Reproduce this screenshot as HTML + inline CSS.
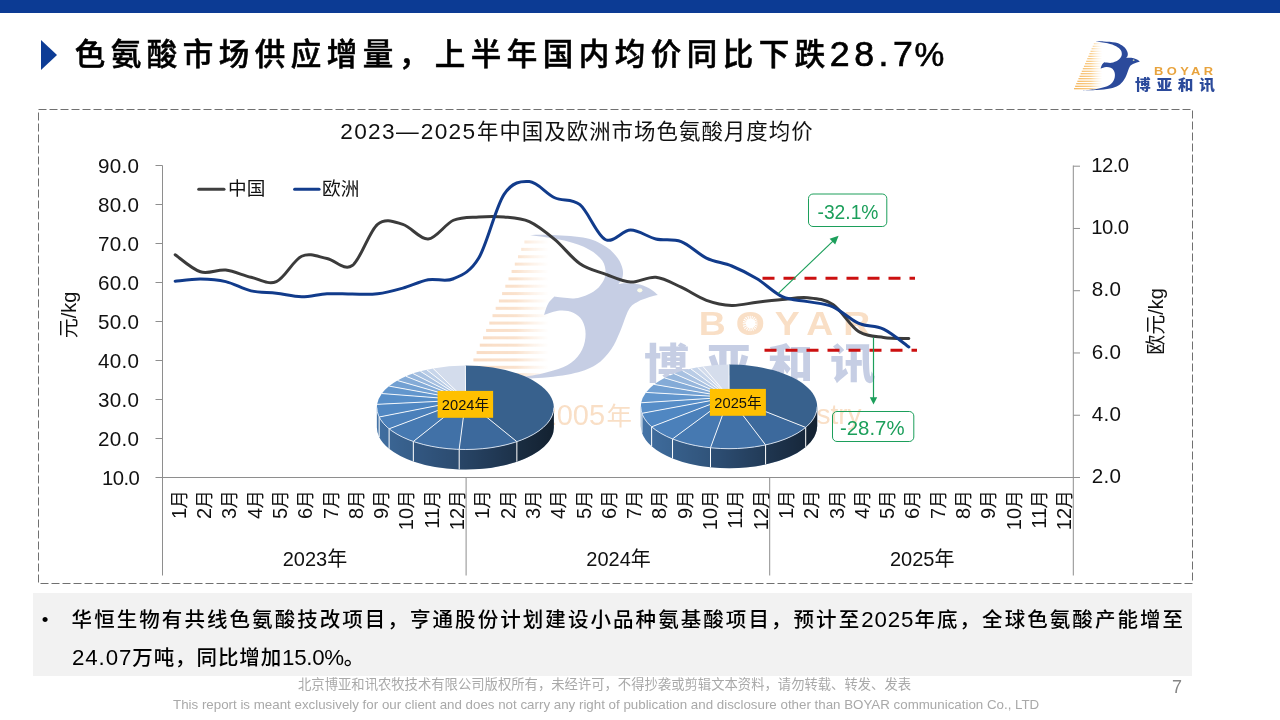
<!DOCTYPE html>
<html lang="zh-CN"><head><meta charset="utf-8"><title>色氨酸市场供应增量</title>
<style>
html,body{margin:0;padding:0}
body{width:1280px;height:720px;position:relative;overflow:hidden;background:#fff;font-family:"Liberation Sans","Noto Sans CJK SC",sans-serif;color:#000}
.bar{position:absolute;left:0;top:0;width:1280px;height:12.5px;background:#0c3b94}
.tri{position:absolute;left:41px;top:39.5px;width:0;height:0;border-left:16px solid #0d3c96;border-top:15.7px solid transparent;border-bottom:15.7px solid transparent}
.title{position:absolute;left:74.8px;top:30.3px;font-size:30.5px;font-weight:500;-webkit-text-stroke:0.55px #000;letter-spacing:5.5px;white-space:nowrap;line-height:48px}
.title .num{position:relative;top:1.2px;font-size:35.7px;font-weight:normal;letter-spacing:4.55px;line-height:1px;margin-left:-1px;-webkit-text-stroke:0.7px #000}
.title .pct{position:relative;top:1.2px;font-size:33.5px;font-weight:normal;letter-spacing:0;line-height:1px;-webkit-text-stroke:0.6px #000;margin-left:-3px}
.note{position:absolute;left:33px;top:593px;width:1159px;height:82.5px;background:#f2f2f2}
.note .bul{position:absolute;left:8.8px;top:7px;font-size:19px;line-height:40px}
.note .l1{position:absolute;left:38.6px;top:7px;font-size:20.5px;line-height:40px;white-space:nowrap;letter-spacing:2.06px;font-weight:500}
.note .d{font-size:22.3px;line-height:1px;letter-spacing:0.9px}
.note .l2{position:absolute;left:39px;top:45.1px;font-size:20.5px;line-height:40px;white-space:nowrap;font-weight:500;letter-spacing:0.9px}
.f1{position:absolute;left:298px;top:675px;font-size:13.33px;line-height:20px;color:#a9a9a9;white-space:nowrap}
.f2{position:absolute;left:173px;top:694.5px;font-size:13.33px;line-height:20px;color:#a9a9a9;white-space:nowrap}
.pn{position:absolute;left:1172px;top:674.7px;font-size:18px;line-height:24px;color:#858585}
</style></head><body>
<div class="bar"></div>
<div class="tri"></div>
<div class="title">色氨酸市场供应增量，上半年国内均价同比下跌<span class="num">28.7</span><span class="pct">%</span></div>
<svg width="1280" height="720" viewBox="0 0 1280 720" style="position:absolute;left:0;top:0" font-family='&quot;Liberation Sans&quot;,&quot;Noto Sans CJK SC&quot;,sans-serif'>
<defs>
<linearGradient id="sg1" x1="0" y1="0" x2="1" y2="0"><stop offset="0" stop-color="#000" stop-opacity="0"/><stop offset="0.45" stop-color="#000" stop-opacity="0.22"/><stop offset="1" stop-color="#000" stop-opacity="0.6"/></linearGradient>
<linearGradient id="sg2" x1="0" y1="0" x2="1" y2="0"><stop offset="0" stop-color="#000" stop-opacity="0"/><stop offset="0.45" stop-color="#000" stop-opacity="0.22"/><stop offset="1" stop-color="#000" stop-opacity="0.6"/></linearGradient>
<linearGradient id="sgr" gradientUnits="userSpaceOnUse" x1="466" y1="0" x2="549" y2="0"><stop offset="0" stop-color="#f2a02c" stop-opacity="1"/><stop offset="0.6" stop-color="#f6b85a" stop-opacity="0.9"/><stop offset="1" stop-color="#fbd9a0" stop-opacity="0"/></linearGradient>
<linearGradient id="sgw" gradientUnits="userSpaceOnUse" x1="466" y1="0" x2="549" y2="0"><stop offset="0" stop-color="#e87a20" stop-opacity="1"/><stop offset="0.6" stop-color="#ea862e" stop-opacity="0.9"/><stop offset="1" stop-color="#f0a058" stop-opacity="0"/></linearGradient>
</defs>
<rect x="38.5" y="109.5" width="1154" height="474" fill="none" stroke="#707070" stroke-width="1" stroke-dasharray="8 3"/>
<g opacity="0.27">
<g><rect x="524.4" y="240.50" width="24.6" height="3" fill="url(#sgw)"/><rect x="521.2" y="247.87" width="27.8" height="3" fill="url(#sgw)"/><rect x="518.0" y="255.24" width="31.0" height="3" fill="url(#sgw)"/><rect x="514.8" y="262.61" width="34.2" height="3" fill="url(#sgw)"/><rect x="511.6" y="269.98" width="37.4" height="3" fill="url(#sgw)"/><rect x="508.5" y="277.35" width="40.5" height="3" fill="url(#sgw)"/><rect x="505.3" y="284.72" width="43.7" height="3" fill="url(#sgw)"/><rect x="502.1" y="292.09" width="46.9" height="3" fill="url(#sgw)"/><rect x="498.9" y="299.46" width="50.1" height="3" fill="url(#sgw)"/><rect x="495.7" y="306.83" width="53.3" height="3" fill="url(#sgw)"/><rect x="492.5" y="314.20" width="56.5" height="3" fill="url(#sgw)"/><rect x="489.3" y="321.57" width="59.7" height="3" fill="url(#sgw)"/><rect x="486.1" y="328.94" width="62.9" height="3" fill="url(#sgw)"/><rect x="483.0" y="336.31" width="66.0" height="3" fill="url(#sgw)"/><rect x="479.8" y="343.68" width="69.2" height="3" fill="url(#sgw)"/><rect x="476.6" y="351.05" width="72.4" height="3" fill="url(#sgw)"/><rect x="473.4" y="358.42" width="75.6" height="3" fill="url(#sgw)"/><rect x="470.2" y="365.79" width="78.8" height="3" fill="url(#sgw)"/><rect x="467.0" y="373.16" width="82.0" height="3" fill="url(#sgw)"/><path d="M530.00 235.00 C533.88 235.00 543.85 234.45 553.30 235.00 C562.75 235.55 577.80 236.27 586.70 238.30 C595.60 240.33 601.52 243.87 606.70 247.20 C611.88 250.53 615.13 254.60 617.80 258.30 C620.47 262.00 621.97 266.07 622.70 269.40 C623.43 272.73 622.90 275.87 622.20 278.30 C621.50 280.73 619.12 283.05 618.50 284.00 C619.87 283.87 623.12 283.10 626.70 283.20 C630.28 283.30 635.93 283.57 640.00 284.60 C644.07 285.63 648.13 287.67 651.10 289.40 C654.07 291.13 656.68 294.07 657.80 295.00 C656.32 295.37 652.23 296.08 648.90 297.20 C645.57 298.32 641.13 299.67 637.80 301.70 C634.47 303.73 631.87 304.40 628.90 309.40 C625.93 314.40 622.97 325.03 620.00 331.70 C617.03 338.37 615.17 343.85 611.10 349.40 C607.03 354.95 602.27 360.92 595.60 365.00 C588.93 369.08 581.48 371.68 571.10 373.90 C560.72 376.12 546.48 377.37 533.30 378.30 C520.12 379.23 498.88 379.30 492.00 379.50 C498.15 378.93 518.68 377.58 528.90 376.10 C539.12 374.62 546.27 372.82 553.30 370.60 C560.33 368.38 566.28 366.33 571.10 362.80 C575.92 359.27 579.78 354.22 582.20 349.40 C584.62 344.58 585.60 338.70 585.60 333.90 C585.60 329.10 584.25 324.12 582.20 320.60 C580.15 317.08 577.00 314.47 573.30 312.80 C569.60 311.13 564.88 310.23 560.00 310.60 C555.12 310.97 546.67 314.27 544.00 315.00 C544.67 313.17 546.27 307.07 548.00 304.00 C549.73 300.93 553.33 297.83 554.40 296.60 C557.93 296.88 569.12 299.12 575.60 298.30 C582.08 297.48 588.87 294.28 593.30 291.70 C597.73 289.12 600.15 285.95 602.20 282.80 C604.25 279.65 605.60 276.50 605.60 272.80 C605.60 269.10 604.98 264.50 602.20 260.60 C599.42 256.70 595.20 252.73 588.90 249.40 C582.60 246.07 574.22 243.00 564.40 240.60 C554.58 238.20 535.73 235.93 530.00 235.00 Z" fill="#2b4a9b"/><ellipse cx="639.8" cy="290.3" rx="2.6" ry="2.1" fill="#eef2b0"/><g transform="translate(698.7,0) scale(1.15,1)"><text x="0" y="335" font-size="32.5" font-weight="bold" fill="#e8862a" letter-spacing="8.7">BOYAR</text></g><circle cx="750.6" cy="323.4" r="6.6" fill="none" stroke="#e8862a" stroke-width="3.6" stroke-dasharray="1.0 1.07"/><g transform="translate(644,0) scale(1.08,1)"><text x="0" y="379.5" font-size="42" font-weight="900" fill="#2b4a9b" letter-spacing="15.4">博亚和讯</text></g></g>
<text x="540.5" y="424.8" font-size="29" fill="#e8862a">2005<tspan font-size="25.5" dx="1.5">年</tspan></text>
<text x="762" y="424.4" font-size="28" fill="#e8862a">Industry</text>
</g>
<g stroke="#8e8e8e" stroke-width="1" fill="none">
<line x1="162.5" y1="165.5" x2="162.5" y2="575.5"/>
<line x1="1073.3" y1="165.5" x2="1073.3" y2="575.5"/>
<line x1="155.5" y1="477.5" x2="1080" y2="477.5"/>
<line x1="155.5" y1="165.50" x2="162.5" y2="165.50"/>
<line x1="155.5" y1="204.50" x2="162.5" y2="204.50"/>
<line x1="155.5" y1="243.50" x2="162.5" y2="243.50"/>
<line x1="155.5" y1="282.50" x2="162.5" y2="282.50"/>
<line x1="155.5" y1="321.50" x2="162.5" y2="321.50"/>
<line x1="155.5" y1="360.50" x2="162.5" y2="360.50"/>
<line x1="155.5" y1="399.50" x2="162.5" y2="399.50"/>
<line x1="155.5" y1="438.50" x2="162.5" y2="438.50"/>
<line x1="1073.3" y1="166.20" x2="1080" y2="166.20"/>
<line x1="1073.3" y1="228.46" x2="1080" y2="228.46"/>
<line x1="1073.3" y1="290.72" x2="1080" y2="290.72"/>
<line x1="1073.3" y1="352.98" x2="1080" y2="352.98"/>
<line x1="1073.3" y1="415.24" x2="1080" y2="415.24"/>
<line x1="466.10" y1="477.5" x2="466.10" y2="575.5"/>
<line x1="769.70" y1="477.5" x2="769.70" y2="575.5"/>
</g>
<g font-size="20" fill="#111">
<text x="139.3" y="172.5" text-anchor="end" font-size="20.6" letter-spacing="0.3">90.0</text>
<text x="139.3" y="211.5" text-anchor="end" font-size="20.6" letter-spacing="0.3">80.0</text>
<text x="139.3" y="250.5" text-anchor="end" font-size="20.6" letter-spacing="0.3">70.0</text>
<text x="139.3" y="289.5" text-anchor="end" font-size="20.6" letter-spacing="0.3">60.0</text>
<text x="139.3" y="328.5" text-anchor="end" font-size="20.6" letter-spacing="0.3">50.0</text>
<text x="139.3" y="367.5" text-anchor="end" font-size="20.6" letter-spacing="0.3">40.0</text>
<text x="139.3" y="406.5" text-anchor="end" font-size="20.6" letter-spacing="0.3">30.0</text>
<text x="139.3" y="445.5" text-anchor="end" font-size="20.6" letter-spacing="0.3">20.0</text>
<text x="139.3" y="484.5" text-anchor="end" font-size="20.3" letter-spacing="-0.55">10.0</text>
<text x="1091.3" y="171.8" font-size="20.3" letter-spacing="-0.55">12.0</text>
<text x="1091.3" y="234.1" font-size="20.3" letter-spacing="-0.55">10.0</text>
<text x="1091.8" y="296.3" font-size="20.6" letter-spacing="0.3">8.0</text>
<text x="1091.8" y="358.6" font-size="20.6" letter-spacing="0.3">6.0</text>
<text x="1091.8" y="420.8" font-size="20.6" letter-spacing="0.3">4.0</text>
<text x="1091.8" y="483.1" font-size="20.6" letter-spacing="0.3">2.0</text>
<text transform="translate(185.75,490.2) rotate(-90)" text-anchor="end">1<tspan font-size="18.4" dx="-0.6">月</tspan></text>
<text transform="translate(211.05,490.2) rotate(-90)" text-anchor="end">2<tspan font-size="18.4" dx="-0.6">月</tspan></text>
<text transform="translate(236.35,490.2) rotate(-90)" text-anchor="end">3<tspan font-size="18.4" dx="-0.6">月</tspan></text>
<text transform="translate(261.65,490.2) rotate(-90)" text-anchor="end">4<tspan font-size="18.4" dx="-0.6">月</tspan></text>
<text transform="translate(286.95,490.2) rotate(-90)" text-anchor="end">5<tspan font-size="18.4" dx="-0.6">月</tspan></text>
<text transform="translate(312.25,490.2) rotate(-90)" text-anchor="end">6<tspan font-size="18.4" dx="-0.6">月</tspan></text>
<text transform="translate(337.55,490.2) rotate(-90)" text-anchor="end">7<tspan font-size="18.4" dx="-0.6">月</tspan></text>
<text transform="translate(362.85,490.2) rotate(-90)" text-anchor="end">8<tspan font-size="18.4" dx="-0.6">月</tspan></text>
<text transform="translate(388.15,490.2) rotate(-90)" text-anchor="end">9<tspan font-size="18.4" dx="-0.6">月</tspan></text>
<text transform="translate(413.45,490.2) rotate(-90)" text-anchor="end">10<tspan font-size="18.4" dx="-0.6">月</tspan></text>
<text transform="translate(438.75,490.2) rotate(-90)" text-anchor="end">11<tspan font-size="18.4" dx="-0.6">月</tspan></text>
<text transform="translate(464.05,490.2) rotate(-90)" text-anchor="end">12<tspan font-size="18.4" dx="-0.6">月</tspan></text>
<text transform="translate(489.35,490.2) rotate(-90)" text-anchor="end">1<tspan font-size="18.4" dx="-0.6">月</tspan></text>
<text transform="translate(514.65,490.2) rotate(-90)" text-anchor="end">2<tspan font-size="18.4" dx="-0.6">月</tspan></text>
<text transform="translate(539.95,490.2) rotate(-90)" text-anchor="end">3<tspan font-size="18.4" dx="-0.6">月</tspan></text>
<text transform="translate(565.25,490.2) rotate(-90)" text-anchor="end">4<tspan font-size="18.4" dx="-0.6">月</tspan></text>
<text transform="translate(590.55,490.2) rotate(-90)" text-anchor="end">5<tspan font-size="18.4" dx="-0.6">月</tspan></text>
<text transform="translate(615.85,490.2) rotate(-90)" text-anchor="end">6<tspan font-size="18.4" dx="-0.6">月</tspan></text>
<text transform="translate(641.15,490.2) rotate(-90)" text-anchor="end">7<tspan font-size="18.4" dx="-0.6">月</tspan></text>
<text transform="translate(666.45,490.2) rotate(-90)" text-anchor="end">8<tspan font-size="18.4" dx="-0.6">月</tspan></text>
<text transform="translate(691.75,490.2) rotate(-90)" text-anchor="end">9<tspan font-size="18.4" dx="-0.6">月</tspan></text>
<text transform="translate(717.05,490.2) rotate(-90)" text-anchor="end">10<tspan font-size="18.4" dx="-0.6">月</tspan></text>
<text transform="translate(742.35,490.2) rotate(-90)" text-anchor="end">11<tspan font-size="18.4" dx="-0.6">月</tspan></text>
<text transform="translate(767.65,490.2) rotate(-90)" text-anchor="end">12<tspan font-size="18.4" dx="-0.6">月</tspan></text>
<text transform="translate(792.95,490.2) rotate(-90)" text-anchor="end">1<tspan font-size="18.4" dx="-0.6">月</tspan></text>
<text transform="translate(818.25,490.2) rotate(-90)" text-anchor="end">2<tspan font-size="18.4" dx="-0.6">月</tspan></text>
<text transform="translate(843.55,490.2) rotate(-90)" text-anchor="end">3<tspan font-size="18.4" dx="-0.6">月</tspan></text>
<text transform="translate(868.85,490.2) rotate(-90)" text-anchor="end">4<tspan font-size="18.4" dx="-0.6">月</tspan></text>
<text transform="translate(894.15,490.2) rotate(-90)" text-anchor="end">5<tspan font-size="18.4" dx="-0.6">月</tspan></text>
<text transform="translate(919.45,490.2) rotate(-90)" text-anchor="end">6<tspan font-size="18.4" dx="-0.6">月</tspan></text>
<text transform="translate(944.75,490.2) rotate(-90)" text-anchor="end">7<tspan font-size="18.4" dx="-0.6">月</tspan></text>
<text transform="translate(970.05,490.2) rotate(-90)" text-anchor="end">8<tspan font-size="18.4" dx="-0.6">月</tspan></text>
<text transform="translate(995.35,490.2) rotate(-90)" text-anchor="end">9<tspan font-size="18.4" dx="-0.6">月</tspan></text>
<text transform="translate(1020.65,490.2) rotate(-90)" text-anchor="end">10<tspan font-size="18.4" dx="-0.6">月</tspan></text>
<text transform="translate(1045.95,490.2) rotate(-90)" text-anchor="end">11<tspan font-size="18.4" dx="-0.6">月</tspan></text>
<text transform="translate(1071.25,490.2) rotate(-90)" text-anchor="end">12<tspan font-size="18.4" dx="-0.6">月</tspan></text>
<text x="315.0" y="565.5" text-anchor="middle">2023年</text>
<text x="618.6" y="565.5" text-anchor="middle">2024年</text>
<text x="922.2" y="565.5" text-anchor="middle">2025年</text>
<text transform="translate(76,315) rotate(-90)" text-anchor="middle">元/kg</text>
<text transform="translate(1163.3,321.4) rotate(-90)" text-anchor="middle">欧元/kg</text>
</g>
<text x="340.3" y="139" font-size="22.67" fill="#111"><tspan letter-spacing="1.3">2023</tspan><tspan letter-spacing="2.2">—</tspan><tspan letter-spacing="1.3">2025</tspan><tspan font-size="21.4" letter-spacing="1.05" dx="0.6">年中国及欧洲市场色氨酸月度均价</tspan></text>
<line x1="198.7" y1="189.2" x2="224" y2="189.2" stroke="#404040" stroke-width="3" stroke-linecap="round"/>
<text x="228" y="194.6" font-size="18.67" fill="#111">中国</text>
<line x1="294.6" y1="189.2" x2="319.1" y2="189.2" stroke="#133d8d" stroke-width="3" stroke-linecap="round"/>
<text x="322" y="194.6" font-size="18.67" fill="#111">欧洲</text>
<path d="M175.15 254.75 C179.37 257.59 192.02 269.24 200.45 271.80 C208.88 274.36 217.32 269.19 225.75 270.10 C234.18 271.01 242.62 275.33 251.05 277.25 C259.48 279.17 267.92 285.10 276.35 281.60 C284.78 278.10 293.22 260.10 301.65 256.25 C310.08 252.40 318.52 256.94 326.95 258.50 C335.38 260.06 343.82 271.30 352.25 265.60 C360.68 259.90 369.12 231.17 377.55 224.30 C385.98 217.43 394.42 221.95 402.85 224.40 C411.28 226.85 419.72 239.69 428.15 239.00 C436.58 238.31 445.02 223.93 453.45 220.25 C461.88 216.57 470.32 217.46 478.75 216.90 C487.18 216.34 495.62 216.12 504.05 216.90 C512.48 217.68 520.92 217.85 529.35 221.60 C537.78 225.35 546.22 232.38 554.65 239.40 C563.08 246.43 571.52 257.97 579.95 263.75 C588.38 269.53 596.82 271.04 605.25 274.10 C613.68 277.16 622.12 281.58 630.55 282.10 C638.98 282.62 647.42 276.40 655.85 277.25 C664.28 278.10 672.72 283.36 681.15 287.20 C689.58 291.04 698.02 297.27 706.45 300.30 C714.88 303.33 723.32 305.08 731.75 305.40 C740.18 305.72 748.62 303.18 757.05 302.20 C765.48 301.22 773.92 300.25 782.35 299.50 C790.78 298.75 799.22 296.87 807.65 297.70 C816.08 298.53 824.52 298.92 832.95 304.50 C841.38 310.08 849.82 325.70 858.25 331.20 C866.68 336.70 875.12 336.28 883.55 337.50 C891.98 338.72 904.63 338.33 908.85 338.50" fill="none" stroke="#3b3b3b" stroke-width="3" stroke-linecap="round" stroke-linejoin="round"/>
<path d="M175.15 281.20 C179.37 280.85 192.02 279.03 200.45 279.10 C208.88 279.17 217.32 279.63 225.75 281.60 C234.18 283.57 242.62 288.97 251.05 290.90 C259.48 292.83 267.92 292.22 276.35 293.20 C284.78 294.18 293.22 296.66 301.65 296.75 C310.08 296.84 318.52 294.19 326.95 293.75 C335.38 293.31 343.82 294.10 352.25 294.10 C360.68 294.10 369.12 294.75 377.55 293.75 C385.98 292.75 394.42 290.44 402.85 288.10 C411.28 285.76 419.72 281.26 428.15 279.70 C436.58 278.14 445.02 282.35 453.45 278.75 C461.88 275.15 470.32 272.16 478.75 258.10 C487.18 244.04 495.62 207.15 504.05 194.40 C512.48 181.65 520.92 181.04 529.35 181.60 C537.78 182.16 546.22 193.90 554.65 197.75 C563.08 201.60 571.52 197.74 579.95 204.70 C588.38 211.66 596.82 235.28 605.25 239.50 C613.68 243.72 622.12 230.08 630.55 230.00 C638.98 229.92 647.42 237.07 655.85 239.00 C664.28 240.93 672.72 238.42 681.15 241.60 C689.58 244.78 698.02 254.03 706.45 258.10 C714.88 262.17 723.32 262.56 731.75 266.00 C740.18 269.44 748.62 273.63 757.05 278.75 C765.48 283.87 773.92 292.89 782.35 296.70 C790.78 300.51 799.22 299.92 807.65 301.60 C816.08 303.28 824.52 303.20 832.95 306.80 C841.38 310.40 849.82 319.48 858.25 323.20 C866.68 326.92 875.12 325.13 883.55 329.10 C891.98 333.07 904.63 344.02 908.85 347.00" fill="none" stroke="#113b8b" stroke-width="3" stroke-linecap="round" stroke-linejoin="round"/>
<line x1="762.5" y1="278.3" x2="915" y2="278.3" stroke="#cc1010" stroke-width="3" stroke-dasharray="12 9"/>
<line x1="764.5" y1="350.3" x2="917" y2="350.3" stroke="#cc1010" stroke-width="3" stroke-dasharray="12 9"/>
<line x1="778.4" y1="293.4" x2="834" y2="240.1" stroke="#1c9f5b" stroke-width="1.2"/>
<polygon points="838.6,235.7 835.2,244.6 829.6,238.8" fill="#1c9f5b"/>
<line x1="873.5" y1="337.5" x2="873.5" y2="398" stroke="#1c9f5b" stroke-width="1.2"/>
<polygon points="873.5,404.5 869.8,397.3 877.2,397.3" fill="#1c9f5b"/>
<rect x="808.5" y="194" width="78.3" height="32.5" rx="4.5" fill="none" stroke="#1c9f5b" stroke-width="1"/>
<text x="817.5" y="219.2" font-size="20.5" fill="#1c9f5b" textLength="61" lengthAdjust="spacingAndGlyphs">-32.1%</text>
<rect x="832.5" y="411.5" width="81.3" height="30" rx="4.5" fill="none" stroke="#1c9f5b" stroke-width="1"/>
<text x="840" y="434.7" font-size="20.5" fill="#1c9f5b" textLength="64.5" lengthAdjust="spacingAndGlyphs">-28.7%</text>
<path d="M553.85 407.50 A88.50 42.00 0 0 1 516.87 441.65 L516.87 461.65 A88.50 42.00 0 0 0 553.85 427.50 Z" fill="#305379"/>
<path d="M516.87 441.65 A88.50 42.00 0 0 1 459.18 449.40 L459.18 469.40 A88.50 42.00 0 0 0 516.87 461.65 Z" fill="#345a86"/>
<path d="M459.18 449.40 A88.50 42.00 0 0 1 413.33 441.48 L413.33 461.48 A88.50 42.00 0 0 0 459.18 469.40 Z" fill="#386190"/>
<path d="M413.33 441.48 A88.50 42.00 0 0 1 389.10 428.82 L389.10 448.82 A88.50 42.00 0 0 0 413.33 461.48 Z" fill="#3c6898"/>
<path d="M389.10 428.82 A88.50 42.00 0 0 1 379.15 417.02 L379.15 437.02 A88.50 42.00 0 0 0 389.10 448.82 Z" fill="#406ea0"/>
<path d="M379.15 417.02 A88.50 42.00 0 0 1 376.85 407.50 L376.85 427.50 A88.50 42.00 0 0 0 379.15 437.02 Z" fill="#4574a7"/>
<path d="M553.85 407.50 A88.50 42.00 0 0 1 376.85 407.50 L376.85 427.50 A88.50 42.00 0 0 0 553.85 427.50 Z" fill="url(#sg1)"/>
<line x1="516.87" y1="441.65" x2="516.87" y2="461.65" stroke="#fff" stroke-width="1"/>
<line x1="459.18" y1="449.40" x2="459.18" y2="469.40" stroke="#fff" stroke-width="1"/>
<line x1="413.33" y1="441.48" x2="413.33" y2="461.48" stroke="#fff" stroke-width="1"/>
<line x1="389.10" y1="428.82" x2="389.10" y2="448.82" stroke="#fff" stroke-width="1"/>
<line x1="379.15" y1="417.02" x2="379.15" y2="437.02" stroke="#fff" stroke-width="1"/>
<path d="M465.60 400.00 L465.35 365.50 A88.50 42.00 0 0 1 516.87 441.65 Z" fill="#38618d"/>
<path d="M465.60 400.00 L516.87 441.65 A88.50 42.00 0 0 1 459.18 449.40 Z" fill="#3c699c"/>
<path d="M465.60 400.00 L459.18 449.40 A88.50 42.00 0 0 1 413.33 441.48 Z" fill="#4171a7"/>
<path d="M465.60 400.00 L413.33 441.48 A88.50 42.00 0 0 1 389.10 428.82 Z" fill="#4679b1"/>
<path d="M465.60 400.00 L389.10 428.82 A88.50 42.00 0 0 1 379.15 417.02 Z" fill="#4b80ba"/>
<path d="M465.60 400.00 L379.15 417.02 A88.50 42.00 0 0 1 377.10 404.35 Z" fill="#5087c2"/>
<path d="M465.60 400.00 L377.10 404.35 A88.50 42.00 0 0 1 381.87 393.55 Z" fill="#578ec8"/>
<path d="M465.60 400.00 L381.87 393.55 A88.50 42.00 0 0 1 389.17 386.12 Z" fill="#6296cd"/>
<path d="M465.60 400.00 L389.17 386.12 A88.50 42.00 0 0 1 397.46 380.56 Z" fill="#72a0d2"/>
<path d="M465.60 400.00 L397.46 380.56 A88.50 42.00 0 0 1 406.02 376.34 Z" fill="#84abd7"/>
<path d="M465.60 400.00 L406.02 376.34 A88.50 42.00 0 0 1 413.08 373.61 Z" fill="#96b6dc"/>
<path d="M465.60 400.00 L413.08 373.61 A88.50 42.00 0 0 1 420.43 371.31 Z" fill="#a8c1e1"/>
<path d="M465.60 400.00 L420.43 371.31 A88.50 42.00 0 0 1 426.69 369.72 Z" fill="#b9cce6"/>
<path d="M465.60 400.00 L426.69 369.72 A88.50 42.00 0 0 1 433.06 368.40 Z" fill="#c7d5ea"/>
<path d="M465.60 400.00 L433.06 368.40 A88.50 42.00 0 0 1 465.35 365.50 Z" fill="#d3dcec"/>
<line x1="465.60" y1="400.00" x2="465.35" y2="365.50" stroke="#fff" stroke-width="0.9"/>
<line x1="465.60" y1="400.00" x2="516.87" y2="441.65" stroke="#fff" stroke-width="0.9"/>
<line x1="465.60" y1="400.00" x2="459.18" y2="449.40" stroke="#fff" stroke-width="0.9"/>
<line x1="465.60" y1="400.00" x2="413.33" y2="441.48" stroke="#fff" stroke-width="0.9"/>
<line x1="465.60" y1="400.00" x2="389.10" y2="428.82" stroke="#fff" stroke-width="0.9"/>
<line x1="465.60" y1="400.00" x2="379.15" y2="417.02" stroke="#fff" stroke-width="0.9"/>
<line x1="465.60" y1="400.00" x2="377.10" y2="404.35" stroke="#fff" stroke-width="0.9"/>
<line x1="465.60" y1="400.00" x2="381.87" y2="393.55" stroke="#fff" stroke-width="0.9"/>
<line x1="465.60" y1="400.00" x2="389.17" y2="386.12" stroke="#fff" stroke-width="0.9"/>
<line x1="465.60" y1="400.00" x2="397.46" y2="380.56" stroke="#fff" stroke-width="0.9"/>
<line x1="465.60" y1="400.00" x2="406.02" y2="376.34" stroke="#fff" stroke-width="0.9"/>
<line x1="465.60" y1="400.00" x2="413.08" y2="373.61" stroke="#fff" stroke-width="0.9"/>
<line x1="465.60" y1="400.00" x2="420.43" y2="371.31" stroke="#fff" stroke-width="0.9"/>
<line x1="465.60" y1="400.00" x2="426.69" y2="369.72" stroke="#fff" stroke-width="0.9"/>
<line x1="465.60" y1="400.00" x2="433.06" y2="368.40" stroke="#fff" stroke-width="0.9"/>
<path d="M553.85 407.50 A88.50 42.00 0 0 1 376.85 407.50" fill="none" stroke="#dfe8f4" stroke-width="0.9"/>
<path d="M817.20 406.60 A88.20 42.10 0 0 1 805.69 427.39 L805.69 446.89 A88.20 42.10 0 0 0 817.20 426.10 Z" fill="#305379"/>
<path d="M805.69 427.39 A88.20 42.10 0 0 1 765.58 444.91 L765.58 464.41 A88.20 42.10 0 0 0 805.69 446.89 Z" fill="#345a86"/>
<path d="M765.58 444.91 A88.20 42.10 0 0 1 710.51 447.76 L710.51 467.26 A88.20 42.10 0 0 0 765.58 464.41 Z" fill="#386190"/>
<path d="M710.51 447.76 A88.20 42.10 0 0 1 672.54 438.94 L672.54 458.44 A88.20 42.10 0 0 0 710.51 467.26 Z" fill="#3c6898"/>
<path d="M672.54 438.94 A88.20 42.10 0 0 1 651.64 426.82 L651.64 446.32 A88.20 42.10 0 0 0 672.54 458.44 Z" fill="#406ea0"/>
<path d="M651.64 426.82 A88.20 42.10 0 0 1 641.93 413.33 L641.93 432.83 A88.20 42.10 0 0 0 651.64 446.32 Z" fill="#4574a7"/>
<path d="M641.93 413.33 A88.20 42.10 0 0 1 640.80 406.60 L640.80 426.10 A88.20 42.10 0 0 0 641.93 432.83 Z" fill="#4b7aac"/>
<path d="M817.20 406.60 A88.20 42.10 0 0 1 640.80 406.60 L640.80 426.10 A88.20 42.10 0 0 0 817.20 426.10 Z" fill="url(#sg2)"/>
<line x1="805.69" y1="427.39" x2="805.69" y2="446.89" stroke="#fff" stroke-width="1"/>
<line x1="765.58" y1="444.91" x2="765.58" y2="464.41" stroke="#fff" stroke-width="1"/>
<line x1="710.51" y1="447.76" x2="710.51" y2="467.26" stroke="#fff" stroke-width="1"/>
<line x1="672.54" y1="438.94" x2="672.54" y2="458.44" stroke="#fff" stroke-width="1"/>
<line x1="651.64" y1="426.82" x2="651.64" y2="446.32" stroke="#fff" stroke-width="1"/>
<line x1="641.93" y1="413.33" x2="641.93" y2="432.83" stroke="#fff" stroke-width="1"/>
<path d="M729.10 397.20 L729.00 364.50 A88.20 42.10 0 0 1 805.69 427.39 Z" fill="#38618d"/>
<path d="M729.10 397.20 L805.69 427.39 A88.20 42.10 0 0 1 765.58 444.91 Z" fill="#3c699c"/>
<path d="M729.10 397.20 L765.58 444.91 A88.20 42.10 0 0 1 710.51 447.76 Z" fill="#4171a7"/>
<path d="M729.10 397.20 L710.51 447.76 A88.20 42.10 0 0 1 672.54 438.94 Z" fill="#4679b1"/>
<path d="M729.10 397.20 L672.54 438.94 A88.20 42.10 0 0 1 651.64 426.82 Z" fill="#4b80ba"/>
<path d="M729.10 397.20 L651.64 426.82 A88.20 42.10 0 0 1 641.93 413.33 Z" fill="#5087c2"/>
<path d="M729.10 397.20 L641.93 413.33 A88.20 42.10 0 0 1 641.16 402.78 Z" fill="#578ec8"/>
<path d="M729.10 397.20 L641.16 402.78 A88.20 42.10 0 0 1 645.96 392.41 Z" fill="#6296cd"/>
<path d="M729.10 397.20 L645.96 392.41 A88.20 42.10 0 0 1 654.04 384.42 Z" fill="#72a0d2"/>
<path d="M729.10 397.20 L654.04 384.42 A88.20 42.10 0 0 1 664.49 377.89 Z" fill="#84abd7"/>
<path d="M729.10 397.20 L664.49 377.89 A88.20 42.10 0 0 1 674.09 373.65 Z" fill="#96b6dc"/>
<path d="M729.10 397.20 L674.09 373.65 A88.20 42.10 0 0 1 682.65 370.78 Z" fill="#a8c1e1"/>
<path d="M729.10 397.20 L682.65 370.78 A88.20 42.10 0 0 1 690.61 368.70 Z" fill="#b9cce6"/>
<path d="M729.10 397.20 L690.61 368.70 A88.20 42.10 0 0 1 697.54 367.27 Z" fill="#c7d5ea"/>
<path d="M729.10 397.20 L697.54 367.27 A88.20 42.10 0 0 1 702.92 366.38 Z" fill="#d3dcec"/>
<path d="M729.10 397.20 L702.92 366.38 A88.20 42.10 0 0 1 729.00 364.50 Z" fill="#d5ddec"/>
<line x1="729.10" y1="397.20" x2="729.00" y2="364.50" stroke="#fff" stroke-width="0.9"/>
<line x1="729.10" y1="397.20" x2="805.69" y2="427.39" stroke="#fff" stroke-width="0.9"/>
<line x1="729.10" y1="397.20" x2="765.58" y2="444.91" stroke="#fff" stroke-width="0.9"/>
<line x1="729.10" y1="397.20" x2="710.51" y2="447.76" stroke="#fff" stroke-width="0.9"/>
<line x1="729.10" y1="397.20" x2="672.54" y2="438.94" stroke="#fff" stroke-width="0.9"/>
<line x1="729.10" y1="397.20" x2="651.64" y2="426.82" stroke="#fff" stroke-width="0.9"/>
<line x1="729.10" y1="397.20" x2="641.93" y2="413.33" stroke="#fff" stroke-width="0.9"/>
<line x1="729.10" y1="397.20" x2="641.16" y2="402.78" stroke="#fff" stroke-width="0.9"/>
<line x1="729.10" y1="397.20" x2="645.96" y2="392.41" stroke="#fff" stroke-width="0.9"/>
<line x1="729.10" y1="397.20" x2="654.04" y2="384.42" stroke="#fff" stroke-width="0.9"/>
<line x1="729.10" y1="397.20" x2="664.49" y2="377.89" stroke="#fff" stroke-width="0.9"/>
<line x1="729.10" y1="397.20" x2="674.09" y2="373.65" stroke="#fff" stroke-width="0.9"/>
<line x1="729.10" y1="397.20" x2="682.65" y2="370.78" stroke="#fff" stroke-width="0.9"/>
<line x1="729.10" y1="397.20" x2="690.61" y2="368.70" stroke="#fff" stroke-width="0.9"/>
<line x1="729.10" y1="397.20" x2="697.54" y2="367.27" stroke="#fff" stroke-width="0.9"/>
<line x1="729.10" y1="397.20" x2="702.92" y2="366.38" stroke="#fff" stroke-width="0.9"/>
<path d="M817.20 406.60 A88.20 42.10 0 0 1 640.80 406.60" fill="none" stroke="#dfe8f4" stroke-width="0.9"/>
<rect x="437.6" y="390.9" width="55.5" height="26.9" fill="#ffc000"/>
<text x="465.5" y="409.7" font-size="14.67" fill="#111" text-anchor="middle">2024年</text>
<rect x="709.9" y="388.9" width="56" height="26.9" fill="#ffc000"/>
<text x="738" y="407.7" font-size="14.67" fill="#111" text-anchor="middle">2025年</text>
<g transform="translate(913,-38.26) scale(0.34483,0.33898)"><g><rect x="524.4" y="240.50" width="24.6" height="3" fill="url(#sgr)"/><rect x="521.2" y="247.87" width="27.8" height="3" fill="url(#sgr)"/><rect x="518.0" y="255.24" width="31.0" height="3" fill="url(#sgr)"/><rect x="514.8" y="262.61" width="34.2" height="3" fill="url(#sgr)"/><rect x="511.6" y="269.98" width="37.4" height="3" fill="url(#sgr)"/><rect x="508.5" y="277.35" width="40.5" height="3" fill="url(#sgr)"/><rect x="505.3" y="284.72" width="43.7" height="3" fill="url(#sgr)"/><rect x="502.1" y="292.09" width="46.9" height="3" fill="url(#sgr)"/><rect x="498.9" y="299.46" width="50.1" height="3" fill="url(#sgr)"/><rect x="495.7" y="306.83" width="53.3" height="3" fill="url(#sgr)"/><rect x="492.5" y="314.20" width="56.5" height="3" fill="url(#sgr)"/><rect x="489.3" y="321.57" width="59.7" height="3" fill="url(#sgr)"/><rect x="486.1" y="328.94" width="62.9" height="3" fill="url(#sgr)"/><rect x="483.0" y="336.31" width="66.0" height="3" fill="url(#sgr)"/><rect x="479.8" y="343.68" width="69.2" height="3" fill="url(#sgr)"/><rect x="476.6" y="351.05" width="72.4" height="3" fill="url(#sgr)"/><rect x="473.4" y="358.42" width="75.6" height="3" fill="url(#sgr)"/><rect x="470.2" y="365.79" width="78.8" height="3" fill="url(#sgr)"/><rect x="467.0" y="373.16" width="82.0" height="3" fill="url(#sgr)"/><path d="M530.00 235.00 C533.88 235.00 543.85 234.45 553.30 235.00 C562.75 235.55 577.80 236.27 586.70 238.30 C595.60 240.33 601.52 243.87 606.70 247.20 C611.88 250.53 615.13 254.60 617.80 258.30 C620.47 262.00 621.97 266.07 622.70 269.40 C623.43 272.73 622.90 275.87 622.20 278.30 C621.50 280.73 619.12 283.05 618.50 284.00 C619.87 283.87 623.12 283.10 626.70 283.20 C630.28 283.30 635.93 283.57 640.00 284.60 C644.07 285.63 648.13 287.67 651.10 289.40 C654.07 291.13 656.68 294.07 657.80 295.00 C656.32 295.37 652.23 296.08 648.90 297.20 C645.57 298.32 641.13 299.67 637.80 301.70 C634.47 303.73 631.87 304.40 628.90 309.40 C625.93 314.40 622.97 325.03 620.00 331.70 C617.03 338.37 615.17 343.85 611.10 349.40 C607.03 354.95 602.27 360.92 595.60 365.00 C588.93 369.08 581.48 371.68 571.10 373.90 C560.72 376.12 546.48 377.37 533.30 378.30 C520.12 379.23 498.88 379.30 492.00 379.50 C498.15 378.93 518.68 377.58 528.90 376.10 C539.12 374.62 546.27 372.82 553.30 370.60 C560.33 368.38 566.28 366.33 571.10 362.80 C575.92 359.27 579.78 354.22 582.20 349.40 C584.62 344.58 585.60 338.70 585.60 333.90 C585.60 329.10 584.25 324.12 582.20 320.60 C580.15 317.08 577.00 314.47 573.30 312.80 C569.60 311.13 564.88 310.23 560.00 310.60 C555.12 310.97 546.67 314.27 544.00 315.00 C544.67 313.17 546.27 307.07 548.00 304.00 C549.73 300.93 553.33 297.83 554.40 296.60 C557.93 296.88 569.12 299.12 575.60 298.30 C582.08 297.48 588.87 294.28 593.30 291.70 C597.73 289.12 600.15 285.95 602.20 282.80 C604.25 279.65 605.60 276.50 605.60 272.80 C605.60 269.10 604.98 264.50 602.20 260.60 C599.42 256.70 595.20 252.73 588.90 249.40 C582.60 246.07 574.22 243.00 564.40 240.60 C554.58 238.20 535.73 235.93 530.00 235.00 Z" fill="#2b4a9b"/><ellipse cx="639.8" cy="290.3" rx="2.6" ry="2.1" fill="#eef2b0"/><g transform="translate(698.7,0) scale(1.15,1)"><text x="0" y="335" font-size="32.5" font-weight="bold" fill="#e8a33d" letter-spacing="8.7">BOYAR</text></g><g transform="translate(644,0) scale(1.08,1)"><text x="0" y="379.5" font-size="42" font-weight="900" fill="#2b4a9b" letter-spacing="15.4">博亚和讯</text></g></g></g>
</svg>
<div class="note"><span class="bul">•</span><div class="l1">华恒生物有共线色氨酸技改项目，亨通股份计划建设小品种氨基酸项目，预计至<span class="d">2025</span>年底，全球色氨酸产能增至</div><div class="l2"><span class="d">24.07</span>万吨，同比增加<span class="d" style="letter-spacing:-0.3px">15.0%</span>。</div></div>
<div class="f1">北京博亚和讯农牧技术有限公司版权所有，未经许可，不得抄袭或剪辑文本资料，请勿转载、转发、发表</div>
<div class="f2">This report is meant exclusively for our client and does not carry any right of publication and disclosure other than BOYAR communication Co., LTD</div>
<div class="pn">7</div>
</body></html>
